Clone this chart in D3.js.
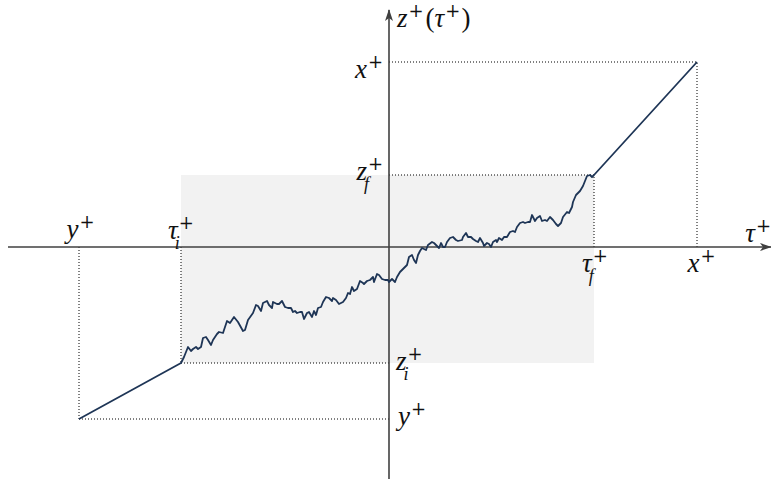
<!DOCTYPE html>
<html>
<head>
<meta charset="utf-8">
<script src="https://cdn.jsdelivr.net/npm/d3@7"></script>
<style>
  body { margin: 0; background: #fff; }
  .mi { font-family: "Liberation Serif", "DejaVu Serif", serif; font-style: italic; font-size: 27px; fill: #111; }
  .up { font-family: "Liberation Serif", "DejaVu Serif", serif; font-style: normal; font-size: 27px; fill: #111; }
  .sup { font-family: "DejaVu Serif", serif; font-style: normal; font-size: 18px; font-weight: 300; fill: #111; }
  .sub { font-family: "Liberation Serif", "DejaVu Serif", serif; font-style: italic; font-size: 18px; fill: #111; }
</style>
</head>
<body>
<script>
// axis units: 1 unit = 1 px, origin where the axes cross
const tauRange = [-381, 382];
const zRange = [-232, 237];

// key points
const yPlus = [-310, -172];
const tauI = -208, zI = -116;
const tauF = 205, zF = 72;
const xPlus = [308, 185];

// fluctuating path between (tauI, zI) and (tauF, zF)
const walkTau = [-208,-205,-201,-198,-196,-193,-191,-188,-186,-183,-181,-178,-176,-172,-170,-166,-162,-159,-155,-151,
  -146,-144,-141,-136,-133,-131,-128,-126,-122,-120,-117,-116,-112,-110,-107,-104,-101,-98,-96,-94,-92,-89,-87,-85,
  -82,-80,-77,-75,-73,-71,-68,-66,-63,-60,-57,-56,-53,-50,-46,-43,-41,-39,-37,-35,-32,-29,-26,-25,-22,-19,-16,-15,
  -12,-10,-7,-4,-1,0,3,6,8,11,14,18,20,23,25,27,29,31,33,35,37,39,43,45,48,50,52,54,56,58,61,64,67,69,73,74,77,79,
  82,84,87,89,91,94,95,98,100,102,104,107,108,110,113,115,118,121,124,126,128,131,134,136,139,141,143,146,148,151,
  153,156,158,161,164,167,169,172,174,178,180,183,184,187,189,191,194,196,198,201,203,205];
const walkZ = [-116,-110,-100,-104,-102,-100,-102,-100,-91,-90,-93,-98,-93,-87,-85,-86,-74,-76,-70,-75,
  -84,-83,-73,-66,-58,-59,-64,-56,-54,-58,-61,-55,-57,-57,-54,-60,-61,-61,-65,-64,-66,-65,-65,-72,
  -66,-65,-70,-64,-68,-61,-60,-55,-50,-51,-54,-51,-53,-57,-55,-51,-46,-47,-40,-44,-42,-34,-36,-37,-34,-33,-30,-35,
  -27,-28,-32,-33,-33,-35,-32,-35,-30,-25,-22,-18,-10,-8,-13,-16,-8,-4,-1,-2,-3,2,5,4,1,-1,4,0,0,5,9,10,7,6,7,10,14,10,
  10,8,6,5,9,4,1,4,3,0,5,7,5,9,7,10,10,15,16,15,20,24,25,24,25,25,32,26,29,31,
  26,27,26,30,27,23,21,24,30,35,34,40,45,52,54,56,61,66,71,72,70,72];

const W = 771, H = 479;
const x = d3.scaleLinear().domain(tauRange).range([8, W]);
const y = d3.scaleLinear().domain(zRange).range([H, 10]);

const svg = d3.select("body").append("svg").attr("width", W).attr("height", H);

const defs = svg.append("defs");
defs.append("marker")
  .attr("id", "arrow")
  .attr("viewBox", "0 0 12 10")
  .attr("refX", 11).attr("refY", 5)
  .attr("markerWidth", 12).attr("markerHeight", 10)
  .attr("markerUnits", "userSpaceOnUse")
  .attr("orient", "auto")
  .append("path")
  .attr("d", "M0,1 L12,5 L0,9 L3,5 Z")
  .attr("fill", "#404040");

// shaded window
svg.append("rect")
  .attr("x", x(tauI)).attr("y", y(zF))
  .attr("width", x(tauF) - x(tauI)).attr("height", y(zI) - y(zF))
  .attr("fill", "#f2f2f2");

// dotted guides
const guides = [
  [[yPlus[0], 0], yPlus], [yPlus, [0, yPlus[1]]],
  [[tauI, 0], [tauI, zI]], [[tauI, zI], [0, zI]],
  [[tauF, 0], [tauF, zF]], [[0, zF], [tauF, zF]],
  [[xPlus[0], 0], xPlus], [[0, xPlus[1]], xPlus]
];
svg.selectAll("line.guide")
  .data(guides)
  .enter()
  .append("line")
  .attr("class", "guide")
  .attr("x1", d => x(d[0][0])).attr("y1", d => y(d[0][1]))
  .attr("x2", d => x(d[1][0])).attr("y2", d => y(d[1][1]))
  .attr("stroke", "#000")
  .attr("stroke-width", 1)
  .attr("stroke-dasharray", "1,2");

// axes
svg.append("line")
  .attr("x1", x(tauRange[0])).attr("y1", y(0))
  .attr("x2", x(tauRange[1])).attr("y2", y(0))
  .attr("stroke", "#404040").attr("stroke-width", 1.6)
  .attr("marker-end", "url(#arrow)");
svg.append("line")
  .attr("x1", x(0)).attr("y1", y(zRange[0]))
  .attr("x2", x(0)).attr("y2", y(zRange[1]))
  .attr("stroke", "#404040").attr("stroke-width", 1.6)
  .attr("marker-end", "url(#arrow)");

// trajectory
const pts = [yPlus].concat(walkTau.map((t, i) => [t, walkZ[i]])).concat([xPlus]);
svg.append("path")
  .datum(pts)
  .attr("d", d3.line().x(d => x(d[0])).y(d => y(d[1])))
  .attr("fill", "none")
  .attr("stroke", "#1e3556")
  .attr("stroke-width", 1.8)
  .attr("stroke-linejoin", "round");

// labels
function mathLabel(px, py, base, sub, anchor) {
  const g = svg.append("g");
  const b = g.append("text").attr("class", "mi").attr("x", 0).attr("y", 0).text(base);
  const w = b.node().getComputedTextLength();
  g.append("text").attr("class", "sup").attr("x", w + 1).attr("y", -10).text("+");
  if (sub) g.append("text").attr("class", "sub").attr("x", w - 3).attr("y", 10).text(sub);
  const bb = g.node().getBBox();
  let dx = -bb.x;
  if (anchor === "end") dx = -(bb.x + bb.width);
  if (anchor === "middle") dx = -(bb.x + bb.width / 2);
  g.attr("transform", "translate(" + (px + dx) + "," + py + ")");
}

mathLabel(x(yPlus[0]), y(0) - 9, "y", null, "middle");
mathLabel(x(tauI), y(0) - 8, "τ", "i", "middle");
mathLabel(x(tauF) + 1, y(0) + 25, "τ", "f", "middle");
mathLabel(x(xPlus[0]) + 4, y(0) + 25, "x", null, "middle");
mathLabel(W, y(0) - 5, "τ", null, "end");
mathLabel(x(0) - 6, y(xPlus[1]) + 16, "x", null, "end");
mathLabel(x(0) - 6, y(zF) + 5, "z", "f", "end");
mathLabel(x(0) + 6, y(zI) + 7, "z", "i", "start");
mathLabel(x(0) + 6, y(yPlus[1]) + 6, "y", null, "start");

// vertical axis title z+(τ+)
const t = svg.append("text").attr("class", "mi").attr("x", x(0) + 8).attr("y", 27);
t.append("tspan").text("z");
t.append("tspan").attr("class", "sup").attr("dy", -10).attr("dx", 1).text("+");
t.append("tspan").attr("class", "up").attr("dy", 10).attr("dx", 2).text("(");
t.append("tspan").text("τ");
t.append("tspan").attr("class", "sup").attr("dy", -10).attr("dx", 1).text("+");
t.append("tspan").attr("class", "up").attr("dy", 10).attr("dx", 1).text(")");
</script>
</body>
</html>
